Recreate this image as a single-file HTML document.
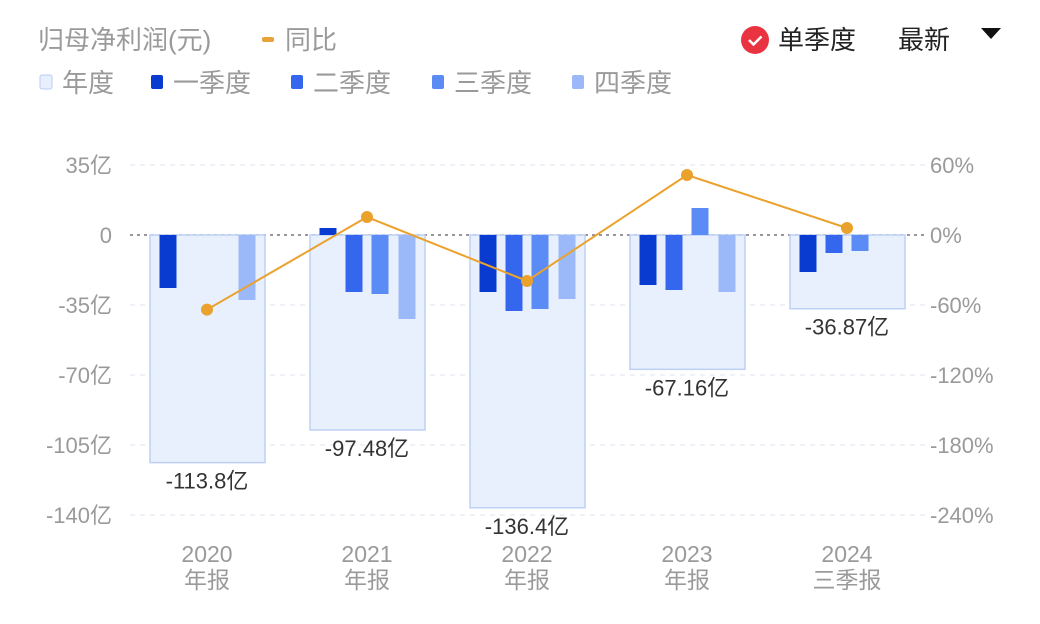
<!DOCTYPE html>
<html><head><meta charset="utf-8">
<style>
html,body{margin:0;padding:0;background:#fff;width:1040px;height:624px;overflow:hidden}
svg{display:block}
text{font-family:"Liberation Sans","Noto Sans CJK SC",sans-serif}
</style></head>
<body>
<svg id="chart" width="1040" height="624" xmlns="http://www.w3.org/2000/svg">
  <g>
    <text x="38" y="49" font-size="26" fill="#9a9a9a">归母净利润(元)</text>
    <rect x="262" y="37" width="12" height="5" rx="2" fill="#e9a23b"/>
    <text x="285" y="49" font-size="26" fill="#9a9a9a">同比</text>
    <circle cx="755" cy="40" r="14" fill="#ea3340"/>
    <path d="M749 40 l4.5 4.5 l8 -8" stroke="#fff" stroke-width="2.5" fill="none"/>
    <text x="778" y="49" font-size="26" fill="#222">单季度</text>
    <text x="898" y="49" font-size="26" fill="#222">最新</text>
    <path d="M981 28 h20 l-10 11 z" fill="#111"/>
  </g>
  <g font-size="26" fill="#9a9a9a">
    <rect x="40" y="75" width="12" height="14" rx="2" fill="#e8effd" stroke="#b9cdf5"/>
    <text x="62" y="92">年度</text>
    <rect x="151" y="75" width="12" height="14" rx="2" fill="#0a3bd0"/>
    <text x="173" y="92">一季度</text>
    <rect x="291" y="75" width="12" height="14" rx="2" fill="#3566ee"/>
    <text x="313" y="92">二季度</text>
    <rect x="432" y="75" width="12" height="14" rx="2" fill="#5b8bf5"/>
    <text x="454" y="92">三季度</text>
    <rect x="572" y="75" width="12" height="14" rx="2" fill="#9bb8f8"/>
    <text x="594" y="92">四季度</text>
  </g>
  <g id="plot"></g>
</svg>
<script>
const categories = ["2020","2021","2022","2023","2024"];
const catSub = ["年报","年报","年报","年报","三季报"];
const annual = [-113.8,-97.48,-136.4,-67.16,-36.87];
const annualLabels = ["-113.8亿","-97.48亿","-136.4亿","-67.16亿","-36.87亿"];
const q1 = [-26.5,3.5,-28.5,-25,-18.5];
const q2 = [0,-28.5,-38,-27.5,-9];
const q3 = [0,-29.5,-37,13.5,-8];
const q4 = [-32.5,-42,-32,-28.5,null];
const yoy = [-64,15.4,-39.4,51.4,6];
const leftTicks = [35,0,-35,-70,-105,-140];
const leftTickLabels = ["35亿","0","-35亿","-70亿","-105亿","-140亿"];
const rightTicks = [60,0,-60,-120,-180,-240];
const rightTickLabels = ["60%","0%","-60%","-120%","-180%","-240%"];

const NS="http://www.w3.org/2000/svg";
const plot=document.getElementById('plot');
const y=v=>235-v*2;
const yr=v=>235-v*70/60;
const xc=i=>207+i*160;
function mk(tag,attrs,parent){const e=document.createElementNS(NS,tag);for(const k in attrs)e.setAttribute(k,attrs[k]);(parent||plot).appendChild(e);return e;}

leftTicks.forEach((t,i)=>{
  const g=mk('line',{x1:130,x2:925,y1:y(t),y2:y(t),stroke:t===0?'#777':'#dde3ee','stroke-dasharray':t===0?'3,4':'5,5','stroke-width':t===0?1.5:1});
  
  
  const l=mk('text',{x:112,y:y(t)+8,'font-size':22,fill:'#9a9a9a','text-anchor':'end'});
  l.textContent=leftTickLabels[i];
  
  
});
rightTicks.forEach((t,i)=>{
  const l=mk('text',{x:930,y:yr(t)+8,'font-size':22,fill:'#9a9a9a'});
  l.textContent=rightTickLabels[i];
  
  
});
categories.forEach((c,i)=>{
  const cx=xc(i);
  const b=mk('rect',{x:cx-57,y:Math.min(y(0),y(annual[i])),width:115,height:Math.abs(y(annual[i])-y(0)),fill:'#e9f0fd',stroke:'#bdd0f5','stroke-width':1.5});
  
  
  const qs=[q1[i],q2[i],q3[i],q4[i]],cols=['#0a3bd0','#3566ee','#5b8bf5','#9bb8f8'],offs=[-39,-13,13,40];
  qs.forEach((v,k)=>{
    if(v===null||v===0)return;
    const r=mk('rect',{x:cx+offs[k]-8.5,y:Math.min(y(0),y(v)),width:17,height:Math.abs(y(v)-y(0)),fill:cols[k]});
    
    
  });
  const lb=mk('text',{x:cx,y:y(annual[i])+26,'font-size':22,fill:'#333','text-anchor':'middle'});
  lb.textContent=annualLabels[i];
  
  
  const t1=mk('text',{x:cx,y:562,'font-size':23,fill:'#9a9a9a','text-anchor':'middle'});
  t1.textContent=c;
  
  
  const t2=mk('text',{x:cx,y:588,'font-size':23,fill:'#9a9a9a','text-anchor':'middle'});
  t2.textContent=catSub[i];
  
  
});
const pl=mk('polyline',{points:yoy.map((v,i)=>xc(i)+','+yr(v)).join(' '),fill:'none',stroke:'#eba22d','stroke-width':2});


yoy.forEach((v,i)=>{
  const p=mk('circle',{cx:xc(i),cy:yr(v),r:6,fill:'#eba22d'});
  
  
});
</script>
</body></html>
